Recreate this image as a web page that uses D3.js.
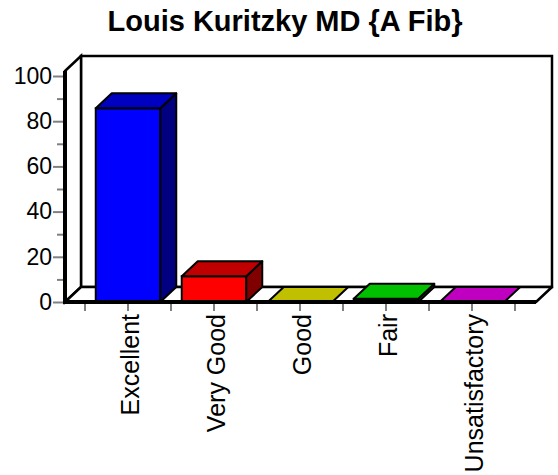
<!DOCTYPE html>
<html>
  <head>
    <meta charset="utf-8" />
    <title>Louis Kuritzky MD {A Fib}</title>
    <script src="https://cdn.jsdelivr.net/npm/d3@7/dist/d3.min.js"></script>
    <style>
      html, body {
        margin: 0;
        padding: 0;
        background: #fff;
      }
      svg {
        display: block;
        font-family: "Liberation Sans", Arial, sans-serif;
      }
      .tick line {
        stroke: #808080;
        stroke-width: 2px;
      }
      .tick text {
        font-size: 23px;
        fill: #000;
      }
    </style>
  </head>
<body>
<svg id="chart" width="558" height="475"></svg>

<script>

let categories = ["Excellent", "Very Good", "Good", "Fair", "Unsatisfactory"];
let values = [85.7, 11.4, 0, 1.4, 0];
let yMajor = [0, 20, 40, 60, 80, 100];
let yMinor = [10, 30, 50, 70, 90];
let fronts = ["#0000ff", "#ff0000", "#ffff00", "#00ff00", "#ff00ff"];
let tops = ["#0000c0", "#c00000", "#c0c000", "#00c000", "#c000c0"];
let sides = ["#000080", "#800000", "#808000", "#008000", "#800080"];

// 3d offset of the back plane
let dx = 16, dy = -15;
let left = 65, right = 536, base = 302, wallTop = 71;

let svg = d3.select('#chart');

let x = d3.scaleBand()
  .domain(categories)
  .range([85, 515])
  .paddingInner(0.25)
  .paddingOuter(0.125);

let y = d3.scaleLinear().domain([0, 100]).range([base, 76]);

let pts = p => p.map(d => d.join(',')).join(' ');

svg.append('text')
   .attr('x', 285)
   .attr('y', 31)
   .attr('text-anchor', 'middle')
   .style('font-size', '29px')
   .style('font-weight', 'bold')
   .text('Louis Kuritzky MD {A Fib}');

// back wall
svg.append('rect')
   .attr('x', left + dx)
   .attr('y', wallTop + dy)
   .attr('width', right - left)
   .attr('height', base - wallTop)
   .attr('fill', '#fff')
   .attr('stroke', '#000')
   .attr('stroke-width', 2.5);

// left side wall
svg.append('polygon')
   .attr('points', pts([[left, wallTop], [left + dx, wallTop + dy], [left + dx, base + dy], [left, base]]))
   .attr('fill', '#fff')
   .attr('stroke', '#000')
   .attr('stroke-width', 2.5);

// floor
svg.append('polygon')
   .attr('points', pts([[left, base], [left + dx, base + dy], [right + dx, base + dy], [right, base]]))
   .attr('fill', '#fff')
   .attr('stroke', '#000')
   .attr('stroke-width', 2.5)
   .attr('stroke-linejoin', 'round');

// y axis
svg.append('g')
   .attr('transform', `translate(${left},0)`)
   .call(d3.axisLeft(y).tickValues(yMinor).tickSize(8).tickFormat(''))
   .call(g => g.select('.domain').remove());

svg.append('g')
   .attr('transform', `translate(${left},0)`)
   .call(d3.axisLeft(y).tickValues(yMajor).tickSize(12).tickPadding(1))
   .call(g => g.select('.domain').remove());

// x ticks under the floor
let step = x.step();
let xTicks = [];
categories.forEach(c => {
  xTicks.push(x(c) - x.paddingOuter() * step);
  xTicks.push(x(c) + x.bandwidth() / 2);
});
xTicks.push(x(categories[categories.length - 1]) + x.bandwidth() + x.paddingOuter() * step);

svg.append('g')
   .selectAll('line')
   .data(xTicks)
   .enter()
   .append('line')
   .attr('x1', d => d).attr('x2', d => d)
   .attr('y1', base + 2).attr('y2', base + 9)
   .attr('stroke', '#808080')
   .attr('stroke-width', 2);

// bars
let bars = svg.append('g')
   .selectAll('g')
   .data(categories)
   .enter()
   .append('g');

bars.each(function (c, i) {
  let g = d3.select(this);
  let x0 = x(c), x1 = x(c) + x.bandwidth();
  let yv = y(values[i]);
  if (values[i] > 0) {
    g.append('rect')
     .attr('x', x0).attr('y', yv)
     .attr('width', x1 - x0).attr('height', base - yv)
     .attr('fill', fronts[i])
     .attr('stroke', '#000').attr('stroke-width', 2);
    g.append('polygon')
     .attr('points', pts([[x1, yv], [x1 + dx, yv + dy], [x1 + dx, base + dy], [x1, base]]))
     .attr('fill', sides[i])
     .attr('stroke', '#000').attr('stroke-width', 2).attr('stroke-linejoin', 'round');
  }
  g.append('polygon')
   .attr('points', pts([[x0, yv], [x0 + dx, yv + dy], [x1 + dx, yv + dy], [x1, yv]]))
   .attr('fill', tops[i])
   .attr('stroke', '#000').attr('stroke-width', 2).attr('stroke-linejoin', 'round');
});

// front edge of floor and front axis line
svg.append('line')
   .attr('x1', left).attr('x2', right)
   .attr('y1', base).attr('y2', base)
   .attr('stroke', '#000').attr('stroke-width', 4);

svg.append('line')
   .attr('x1', left).attr('x2', left)
   .attr('y1', wallTop).attr('y2', base + 2)
   .attr('stroke', '#000').attr('stroke-width', 4);

// category labels
svg.append('g')
   .selectAll('text')
   .data(categories)
   .enter()
   .append('text')
   .attr('transform', d => `translate(${x(d) + x.bandwidth() / 2 + 11},314) rotate(-90)`)
   .attr('text-anchor', 'end')
   .style('font-size', '25px')
   .text(d => d);

</script>
</body>
</html>
